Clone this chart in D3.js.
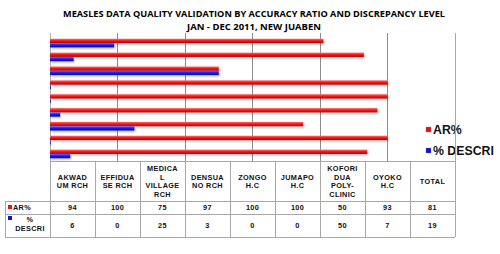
<!DOCTYPE html>
<html><head><meta charset="utf-8">
<script src="https://cdn.jsdelivr.net/npm/d3@7/dist/d3.min.js"></script>
<style>body{margin:0;background:#fff}svg{display:block}</style>
</head><body>
<svg id="c" width="500" height="254"></svg>
<script>
const categories = ["AKWADUM RCH","EFFIDUASE RCH","MEDICAL VILLAGE RCH","DENSUANO RCH","ZONGO H.C","JUMAPO H.C","KOFORIDUA POLY-CLINIC","OYOKO H.C","TOTAL"];
const headerLines = [["AKWAD","UM RCH"],["EFFIDUA","SE RCH"],["MEDICA","L","VILLAGE","RCH"],["DENSUA","NO RCH"],["ZONGO","H.C"],["JUMAPO","H.C"],["KOFORI","DUA","POLY-","CLINIC"],["OYOKO","H.C"],["TOTAL"]];
const arValues = [94,100,75,97,100,100,50,93,81];
const descriValues = [6,0,25,3,0,0,50,7,19];
const seriesNames = ["AR%","% DESCRI"];
const axisTicks = [0,20,40,60,80,100,120];

const svg = d3.select("#c");
const defs = svg.append("defs");
function grad(id, c1, c2, c3){
  const g = defs.append("linearGradient").attr("id",id).attr("x1",0).attr("x2",0).attr("y1",0).attr("y2",1);
  g.append("stop").attr("offset","0%").attr("stop-color",c1);
  g.append("stop").attr("offset","45%").attr("stop-color",c2);
  g.append("stop").attr("offset","100%").attr("stop-color",c3);
}
grad("gr","#ff7070","#f21a1a","#b80000");
grad("gb","#6a6aff","#1c1cf0","#0000a8");
const f = defs.append("filter").attr("id","sh").attr("x","-5%").attr("y","-50%").attr("width","110%").attr("height","250%");
f.append("feDropShadow").attr("dx",1).attr("dy",1.2).attr("stdDeviation",0.8).attr("flood-color","#000").attr("flood-opacity",0.3);

const colors = ["url(#gr)","url(#gb)"];
const solid = ["#ee1111","#1111dd"];

// title
svg.append("text").attr("x",254).attr("y",17).attr("text-anchor","middle")
  .attr("font-family","Open Sans, Liberation Sans, Arial").attr("font-weight","bold").attr("font-size",8.6)
  .attr("textLength",382).attr("lengthAdjust","spacingAndGlyphs")
  .text("MEASLES DATA QUALITY VALIDATION BY ACCURACY RATIO AND DISCREPANCY LEVEL");
svg.append("text").attr("x",254).attr("y",30).attr("text-anchor","middle")
  .attr("font-family","Open Sans, Liberation Sans, Arial").attr("font-weight","bold").attr("font-size",8.6)
  .attr("textLength",134).attr("lengthAdjust","spacingAndGlyphs")
  .text("JAN - DEC 2011, NEW JUABEN");

const plotTop = 36, plotBottom = 161;
const x = d3.scaleLinear().domain([0,120]).range([50,455]);
const y = d3.scaleBand().domain(categories.slice().reverse()).range([plotTop, plotBottom]).paddingInner(0.38).paddingOuter(0.2);
const ys = d3.scaleBand().domain([0,1]).range([0, y.bandwidth()]);

// gridlines + ticks
svg.append("g").selectAll("line").data(axisTicks).join("line")
  .attr("x1",d=>x(d)).attr("x2",d=>x(d)).attr("y1",plotTop-3).attr("y2",plotBottom)
  .attr("stroke",d=>d===0?"#b0b0b0":"#8c8c8c").attr("stroke-width",1).attr("shape-rendering","crispEdges");

// bars
const groups = svg.append("g").selectAll("g").data(categories).join("g")
  .attr("transform",d=>`translate(0,${y(d)})`);
groups.selectAll("rect").data((d,i)=>[arValues[i],descriValues[i]]).join("rect")
  .attr("x",x(0)).attr("y",(d,j)=>ys(j)).attr("height",ys.bandwidth())
  .attr("width",d=>Math.max(0.8,x(d)-x(0)))
  .attr("fill",(d,j)=>colors[j]).attr("filter","url(#sh)");

// legend
const leg = svg.append("g");
seriesNames.forEach((n,i)=>{
  const ly = 130 + i*21;
  leg.append("rect").attr("x",426).attr("y",ly-3).attr("width",5).attr("height",5).attr("fill",solid[i]).attr("stroke","#777").attr("stroke-width",0.3);
  leg.append("text").attr("x",433).attr("y",ly+1).attr("dominant-baseline","middle")
    .attr("font-family","Liberation Sans, Arial").attr("font-weight","bold").attr("font-size",12.3).attr("fill","#111").text(n);
});

// table
const colX = d3.scaleBand().domain(categories).range([50,455]);
const tHead = 161, tRow1 = 201, tRow2 = 214, tBot = 237, tLeft = 5;
const tg = svg.append("g").attr("stroke","#a8a8a8").attr("stroke-width",1).attr("shape-rendering","crispEdges");
[[50,455,tHead],[tLeft,455,tRow1],[tLeft,455,tRow2],[tLeft,455,tBot]].forEach(([a,b,yy])=>
  tg.append("line").attr("x1",a).attr("x2",b).attr("y1",yy+0.5).attr("y2",yy+0.5));
categories.forEach(c=>tg.append("line").attr("x1",colX(c)+0.5).attr("x2",colX(c)+0.5).attr("y1",tHead).attr("y2",tBot));
tg.append("line").attr("x1",455.5).attr("x2",455.5).attr("y1",plotTop-3).attr("y2",tBot);
tg.append("line").attr("x1",tLeft+0.5).attr("x2",tLeft+0.5).attr("y1",tRow1).attr("y2",tBot);

const tf = {"font-family":"Liberation Sans, Arial","font-weight":"bold","font-size":7.3,"letter-spacing":0.35,"fill":"#111"};
function st(sel){Object.entries(tf).forEach(([k,v])=>sel.attr(k,v));return sel;}
const lh = 8.5;
categories.forEach((c,i)=>{
  const cx = colX(c)+colX.bandwidth()/2;
  const lines = headerLines[i];
  const cy = (tHead+tRow1)/2 + 1;
  lines.forEach((t,k)=>{
    st(svg.append("text")).attr("x",cx).attr("y",cy + (k-(lines.length-1)/2)*lh)
      .attr("text-anchor","middle").attr("dominant-baseline","middle").text(t);
  });
  st(svg.append("text")).attr("x",cx).attr("y",(tRow1+tRow2)/2+0.8).attr("text-anchor","middle").attr("dominant-baseline","middle").text(arValues[i]);
  st(svg.append("text")).attr("x",cx).attr("y",(tRow2+tBot)/2+0.8).attr("text-anchor","middle").attr("dominant-baseline","middle").text(descriValues[i]);
});
// row labels
svg.append("rect").attr("x",8).attr("y",205).attr("width",4).attr("height",4).attr("fill",solid[0]);
st(svg.append("text")).attr("x",13).attr("y",208).attr("dominant-baseline","middle").text("AR%");
svg.append("rect").attr("x",8).attr("y",216).attr("width",4).attr("height",4).attr("fill",solid[1]);
st(svg.append("text")).attr("x",30).attr("y",220.5).attr("text-anchor","middle").attr("dominant-baseline","middle").text("%");
st(svg.append("text")).attr("x",30).attr("y",229).attr("text-anchor","middle").attr("dominant-baseline","middle").text("DESCRI");
</script>
</body></html>
